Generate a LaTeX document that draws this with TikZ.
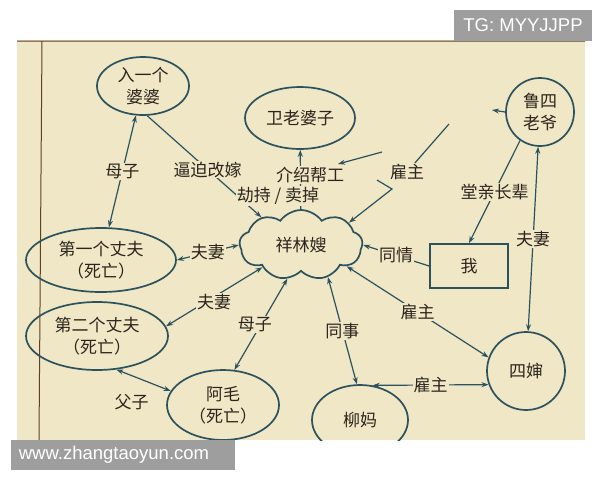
\documentclass[tikz,border=0pt]{standalone}
\usepackage{fontspec}
\setmainfont{Noto Sans CJK SC}
\newfontfamily\wmfont{Liberation Sans}
\usetikzlibrary{shapes.geometric,shapes.symbols,arrows.meta}
\definecolor{paper}{RGB}{239,231,198}
\definecolor{ink}{RGB}{44,82,94}
\definecolor{txt}{RGB}{45,36,28}
\definecolor{wm}{RGB}{158,158,158}
\begin{document}
\begin{tikzpicture}[x=1pt,y=-1pt,
    every node/.style={text=txt,font=\fontsize{17}{22}\selectfont},
    person/.style={ellipse,draw=ink,line width=1.7pt,align=center,inner sep=0pt},
    lab/.style={fill=paper,inner sep=1pt},
    link/.style={draw=ink,line width=1.2pt},
    >={Stealth[length=7pt,width=5pt]}]
  \useasboundingbox (0,0) rectangle (600,480);
  % the photographed page
  \fill[paper] (17,40) rectangle (585,440);
  \draw[brown!50!black,line width=1pt] (17,41)--(585,41) (42,41)--(39,440);
  \begin{scope}
    \clip (17,40) rectangle (585,440);
    % people
    \node[person,minimum width=92pt,minimum height=58pt] (popo) at (143,86) {入一个\\婆婆};
    \node[person,minimum width=110pt,minimum height=62pt] (wei) at (300,118) {卫老婆子};
    \node[person,circle,minimum size=68pt] (lu) at (540,112) {鲁四\\老爷};
    \node[cloud,cloud puffs=9,cloud puff arc=110,aspect=1.8,draw=ink,line width=1.7pt,
          minimum width=123pt,minimum height=70pt] (xlx) at (301,245) {祥林嫂};
    \node[draw=ink,line width=1.7pt,minimum width=78pt,minimum height=44pt] (wo) at (469,266) {我};
    \node[person,minimum width=150pt,minimum height=64pt] (fu1) at (101,260) {第一个丈夫\\（死亡）};
    \node[person,minimum width=142pt,minimum height=68pt] (fu2) at (97,336) {第二个丈夫\\（死亡）};
    \node[person,minimum width=112pt,minimum height=70pt] (amao) at (223,405) {阿毛\\（死亡）};
    \node[person,minimum width=96pt,minimum height=70pt] (liu) at (360,420) {柳妈};
    \node[person,circle,minimum size=78pt] (sishen) at (526,371) {四婶};
    % relations
    \draw[link,<->] (popo) -- node[lab]{母子} (fu1);
    \draw[link,->] (popo.-82) -- node[lab,pos=.53]{逼迫改嫁} (xlx.145);
    \draw[link,->] (xlx) -- (wei);
    \node[lab] (jieshao) at (310,175) {介绍帮工};
    \node[lab] (jiechi) at (278,196) {劫持 / 卖掉};
    \coordinate (lutip) at (492,110);
    \draw[link,->] (lu.west) -- (lutip);
    \node[lab] (guzhu) at (407,172) {雇主};
    \coordinate (gz) at (449,124);
    \draw[link] (gz) -- (guzhu);
    \coordinate (zhi1) at (382,152);
    \coordinate (zhi2) at (338,164);
    \draw[link,->] (zhi1) -- (zhi2);
    \coordinate (v1) at (377,180);
    \coordinate (v2) at (392,189);
    \draw[link,->] (v1) -- (v2) -- (xlx.25);
    \draw[link,->] (lu.235) -- node[lab]{堂亲长辈} (wo.north);
    \draw[link,<->] (lu) -- node[lab]{夫妻} (sishen);
    \draw[link,->] (wo.west) -- node[lab]{同情} (xlx.east);
    \draw[link,<->] (xlx.-25) -- node[lab]{雇主} (sishen.160);
    \draw[link,<->] (liu.70) -- node[lab]{雇主} (sishen.200);
    \draw[link,<->] (xlx.-50) -- node[lab]{同事} (liu.95);
    \draw[link,<->] (xlx.-112) -- node[lab,xshift=-6pt]{母子} (amao.72);
    \draw[link,<->] (xlx.-150) -- node[lab,yshift=-5pt]{夫妻} (fu2.8);
    \draw[link,<->] (xlx.west) -- node[lab]{夫妻} (fu1.east);
    \draw[link,<->] (fu2.-60) -- node[below=10pt,xshift=-12pt]{父子} (amao.165);
  \end{scope}
  % watermarks
  \fill[wm] (454,10) rectangle (592,41);
  \node[text=white,font=\wmfont\fontsize{18.5}{20}\selectfont] (tg) at (523,25.5) {TG: MYYJJPP};
  \fill[wm] (11,440) rectangle (235,470);
  \node[text=white,font=\wmfont\fontsize{18.5}{20}\selectfont] (site) at (114,455) {www.zhangtaoyun.com};
\end{tikzpicture}
\end{document}
